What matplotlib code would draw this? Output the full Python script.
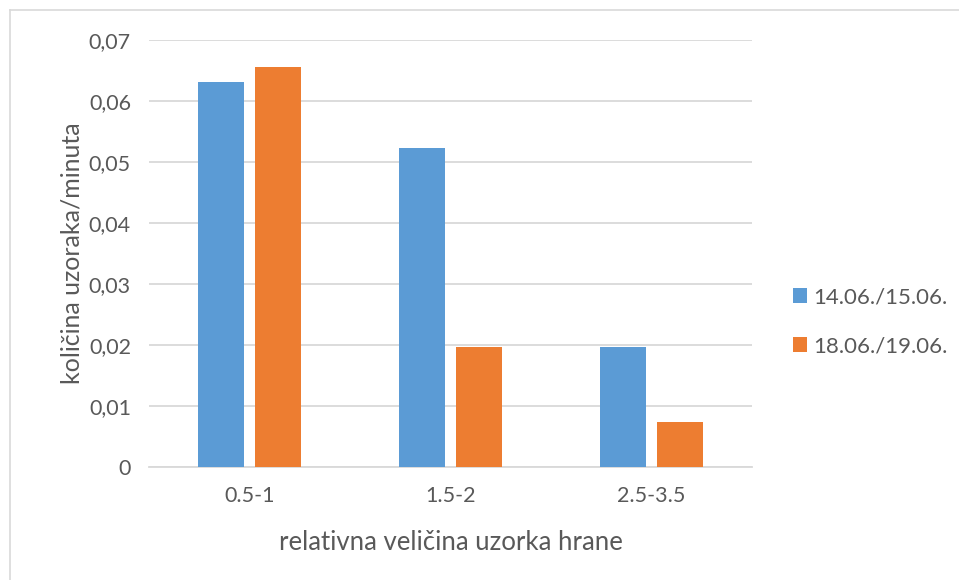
import numpy as np
import matplotlib.pyplot as plt
from matplotlib.lines import Line2D

categories = ['0.5-1', '1.5-2', '2.5-3.5']
series_names = ['14.06./15.06.', '18.06./19.06.']
vals_1415 = [0.0631, 0.0523, 0.0196]
vals_1819 = [0.0655, 0.0196, 0.0073]
yticks = [0, 0.01, 0.02, 0.03, 0.04, 0.05, 0.06, 0.07]
ytick_labels = ['0', '0,01', '0,02', '0,03', '0,04', '0,05', '0,06', '0,07']

blue = '#5b9bd5'
orange = '#ed7d31'
text_col = '#595959'
grid_col = '#d9d9d9'

plt.rcParams['font.family'] = ['Lato', 'DejaVu Sans']

fig = plt.figure(figsize=(9.59, 5.8), dpi=100)
ax = fig.add_axes([149 / 959, 1 - 467 / 580, (752 - 149) / 959, (467 - 40) / 580])

x = np.arange(len(categories))
w = 0.229
off = 0.143
ax.bar(x - off, vals_1415, w, color=blue, label=series_names[0], zorder=3)
ax.bar(x + off, vals_1819, w, color=orange, label=series_names[1], zorder=3)

ax.set_xlim(-0.5, 2.5)
ax.set_ylim(0, 0.07)
ax.set_yticks(yticks)
ax.set_yticklabels(ytick_labels)
ax.set_xticks(x)
ax.set_xticklabels(categories)
ax.grid(axis='y', color=grid_col, linewidth=1.3, zorder=0)
for s in ['top', 'right', 'left']:
    ax.spines[s].set_visible(False)
ax.spines['bottom'].set_color(grid_col)
ax.spines['bottom'].set_linewidth(1.3)
ax.tick_params(length=0, labelsize=15.5, colors=text_col, pad=14)
ax.tick_params(axis='y', pad=13)

ax.set_ylabel('količina uzoraka/minuta', fontsize=18, color=text_col, labelpad=4)
ax.set_xlabel('relativna veličina uzorka hrane', fontsize=18.5, color=text_col, labelpad=17)

ax.legend(loc='center left', bbox_to_anchor=(1.068, 0.34), frameon=False,
          fontsize=16, labelcolor=text_col, handlelength=0.65, handleheight=0.65,
          handletextpad=0.25, labelspacing=1.3, borderpad=0, borderaxespad=0)

# outer chart border (left and top visible)
fig.add_artist(Line2D([10 / 959, 10 / 959], [0, 1 - 10 / 580], color=grid_col, lw=1.2))
fig.add_artist(Line2D([10 / 959, 1], [1 - 10 / 580, 1 - 10 / 580], color=grid_col, lw=1.2))

fig.savefig('out.png', dpi=100, facecolor='white')
